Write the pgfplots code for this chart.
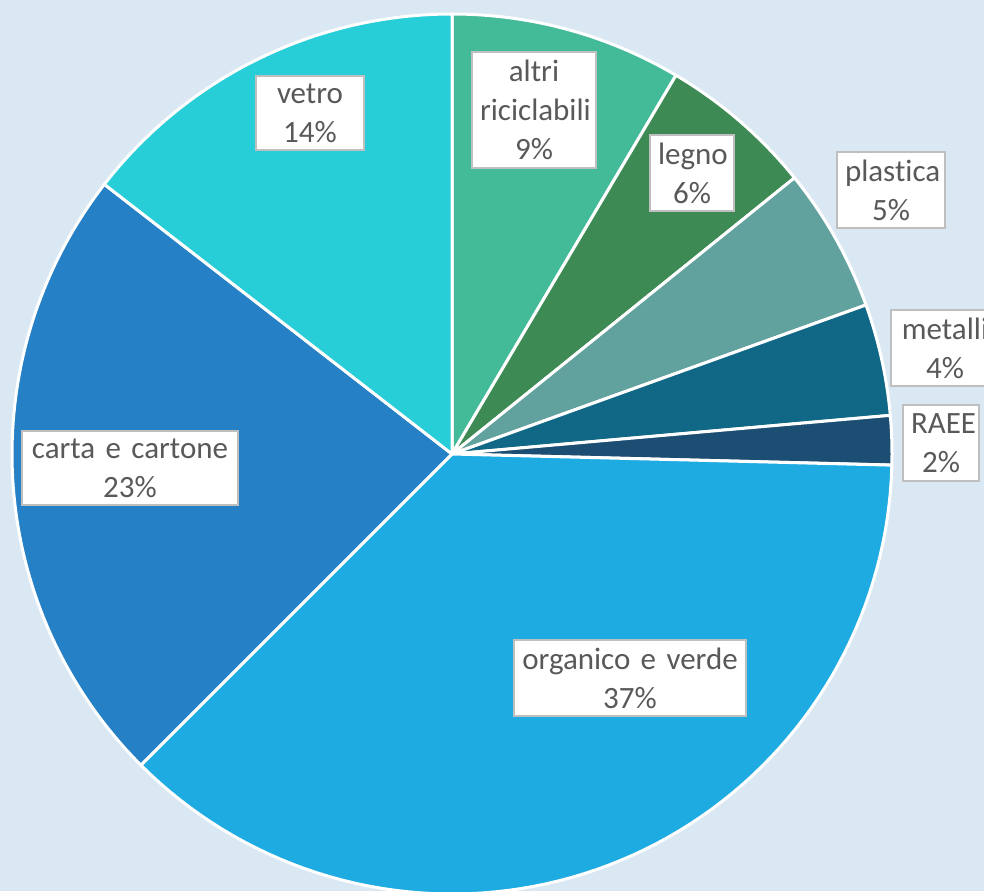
\documentclass[border=0pt]{standalone}
\usepackage{pgfplots}
\pgfplotsset{compat=1.18}
\usepackage{pgfplotstable}
\usepackage{fontspec}
\setmainfont[Ligatures=NoCommon]{Carlito}

\definecolor{bgblue}{HTML}{DAE8F4}
\definecolor{cAltri}{HTML}{43BB99}
\definecolor{cLegno}{HTML}{3D8A55}
\definecolor{cPlastica}{HTML}{62A29E}
\definecolor{cMetalli}{HTML}{116886}
\definecolor{cRaee}{HTML}{1C4D72}
\definecolor{cOrganico}{HTML}{1EABE2}
\definecolor{cCarta}{HTML}{2680C6}
\definecolor{cVetro}{HTML}{27CDD7}
\definecolor{lblgray}{HTML}{595959}
\definecolor{boxgray}{HTML}{BFBFBF}

% shares in %, clockwise from 12 o'clock
\pgfplotstableread{
name      value colour
altri     8.5   cAltri
legno     5.7   cLegno
plastica  5.3   cPlastica
metalli   4.1   cMetalli
raee      1.8   cRaee
organico  37.1  cOrganico
carta     23.0  cCarta
vetro     14.5  cVetro
}\piedata

\begin{document}
\begin{tikzpicture}
\begin{axis}[
    name=ax,
    scale only axis,
    width=492pt, height=445.5pt,
    xmin=0, xmax=984, ymin=0, ymax=891,
    axis line style={draw=none},
    ticks=none,
    axis background/.style={fill=bgblue},
    clip=true,
  ]
  \pgfmathsetmacro\cum{0}
  \pgfplotsforeachungrouped \i in {0,...,7}{
    \pgfplotstablegetelem{\i}{value}\of\piedata
    \let\v\pgfplotsretval
    \pgfplotstablegetelem{\i}{colour}\of\piedata
    \let\c\pgfplotsretval
    \pgfmathsetmacro\aStart{90-3.6*\cum}
    \pgfmathsetmacro\cum{\cum+\v}
    \pgfmathsetmacro\aEnd{90-3.6*\cum}
    \edef\temp{\noexpand\addplot[forget plot, fill=\c, draw=white,
        line width=1.5pt, line join=round, domain=\aEnd:\aStart, samples=80]
      ({452+440*cos(x)},{437+440*sin(x)}) -- (axis cs:452,437) -- cycle;}
    \temp
  }

  \tikzset{lbl/.style={fill=white, draw=boxgray, line width=1pt,
      text=lblgray, align=center, font=\fontsize{15.5}{19.5}\selectfont,
      inner sep=4pt}}
  \node[lbl, text width=46pt] at (axis cs:310,778) {vetro\\14\%};
  \node[lbl, text width=54pt] at (axis cs:534,781) {altri\\riciclabili\\9\%};
  \node[lbl, text width=34pt] at (axis cs:692,718) {legno\\6\%};
  \node[lbl, text width=46pt] at (axis cs:891,701) {plastica\\5\%};
  \node[lbl, text width=46pt] at (axis cs:945,543) {metalli\\4\%};
  \node[lbl, text width=30pt] at (axis cs:941,448) {RAEE\\2\%};
  \node[lbl, text width=100pt] at (axis cs:130,423) {carta e cartone\\23\%};
  \node[lbl, text width=108pt] at (axis cs:630,213) {organico e verde\\37\%};
\end{axis}
\pgfresetboundingbox
\useasboundingbox (ax.south west) rectangle (ax.north east);
\end{tikzpicture}
\end{document}
